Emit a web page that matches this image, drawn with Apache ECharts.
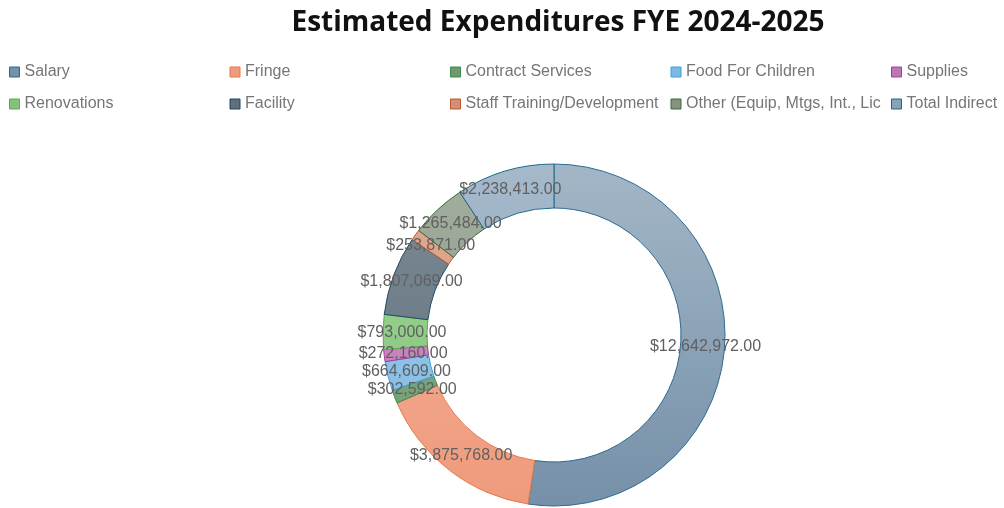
<!DOCTYPE html>
<html>
<head>
<meta charset="utf-8">
<script src="https://cdn.jsdelivr.net/npm/echarts@6/dist/echarts.min.js"></script>
<style>
  html, body { margin: 0; padding: 0; background: #fff; }
  #chart { width: 1004px; height: 508px; }
</style>
</head>
<body>
<div id="chart"></div>
<script>
const categories = [
  'Salary', 'Fringe', 'Contract Services', 'Food For Children', 'Supplies',
  'Renovations', 'Facility', 'Staff Training/Development',
  'Other (Equip, Mtgs, Int., Lic', 'Total Indirect'
]
const amounts = [
  12642972, 3875768, 302592, 664609, 272160,
  793000, 1807069, 253871, 1265484, 2238413
]

// fill (top of ring, lighter) / fill (bottom, darker) / outline
const fillTop = ['#a3b6c7', '#f6b49c', '#8cb38c', '#9dcdf0', '#d294cb', '#9fd596', '#7c8b96', '#e3ab93', '#a3ae9f', '#a5b9cb']
const fillBottom = ['#7590a8', '#ef9a7c', '#6e9a70', '#7fb8e2', '#bd76b5', '#82c27a', '#5f6f7b', '#d28f74', '#87937f', '#8aa2b8']
const borders = ['#2b6b92', '#e8784a', '#3d8a45', '#3aa0dc', '#a83c9c', '#5aae40', '#1e4a64', '#b8582e', '#3a6a3a', '#1e6a8a']

const chart = echarts.init(document.getElementById('chart'))

const cx = 554
const cy = 335
const outerR = 171
const innerR = 127

function ringGradient(i) {
  return new echarts.graphic.LinearGradient(0, cy - outerR, 0, cy + outerR, [
    { offset: 0, color: fillTop[i] },
    { offset: 1, color: fillBottom[i] }
  ], true)
}

function money(v) {
  return '$' + v.toLocaleString('en-US', { minimumFractionDigits: 2, maximumFractionDigits: 2 })
}

chart.setOption({
  animation: false,
  title: {
    text: 'Estimated Expenditures FYE 2024-2025',
    left: 553,
    textAlign: 'center',
    top: 4,
    textStyle: {
      fontFamily: 'Open Sans',
      fontWeight: 'bold',
      fontSize: 28,
      color: '#111'
    }
  },
  legend: {
    left: 9,
    top: 56,
    width: 1000,
    padding: 0,
    itemGap: 0,
    itemWidth: 10,
    itemHeight: 10,
    icon: 'rect',
    selectedMode: false,
    data: categories.map((name, i) => ({
      name,
      itemStyle: { color: fillBottom[i], borderColor: borders[i], borderWidth: 1 },
      textStyle: { width: i % 5 === 4 ? 100 : 205 }
    })),
    textStyle: {
      fontFamily: 'Liberation Sans',
      fontSize: 16,
      color: '#767676',
      lineHeight: 32,
      overflow: 'truncate'
    }
  },
  series: [
    {
      type: 'pie',
      center: [cx, cy],
      radius: [innerR, outerR],
      startAngle: 90,
      clockwise: true,
      silent: true,
      label: {
        show: true,
        position: 'inside',
        fontFamily: 'Liberation Sans',
        fontSize: 16,
        color: '#606060',
        formatter: (p) => money(p.value)
      },
      labelLine: { show: false },
      labelLayout: { hideOverlap: false },
      data: categories.map((name, i) => ({
        name,
        value: amounts[i],
        itemStyle: {
          color: ringGradient(i),
          borderColor: borders[i],
          borderWidth: 1
        }
      }))
    }
  ]
})
</script>
</body>
</html>
